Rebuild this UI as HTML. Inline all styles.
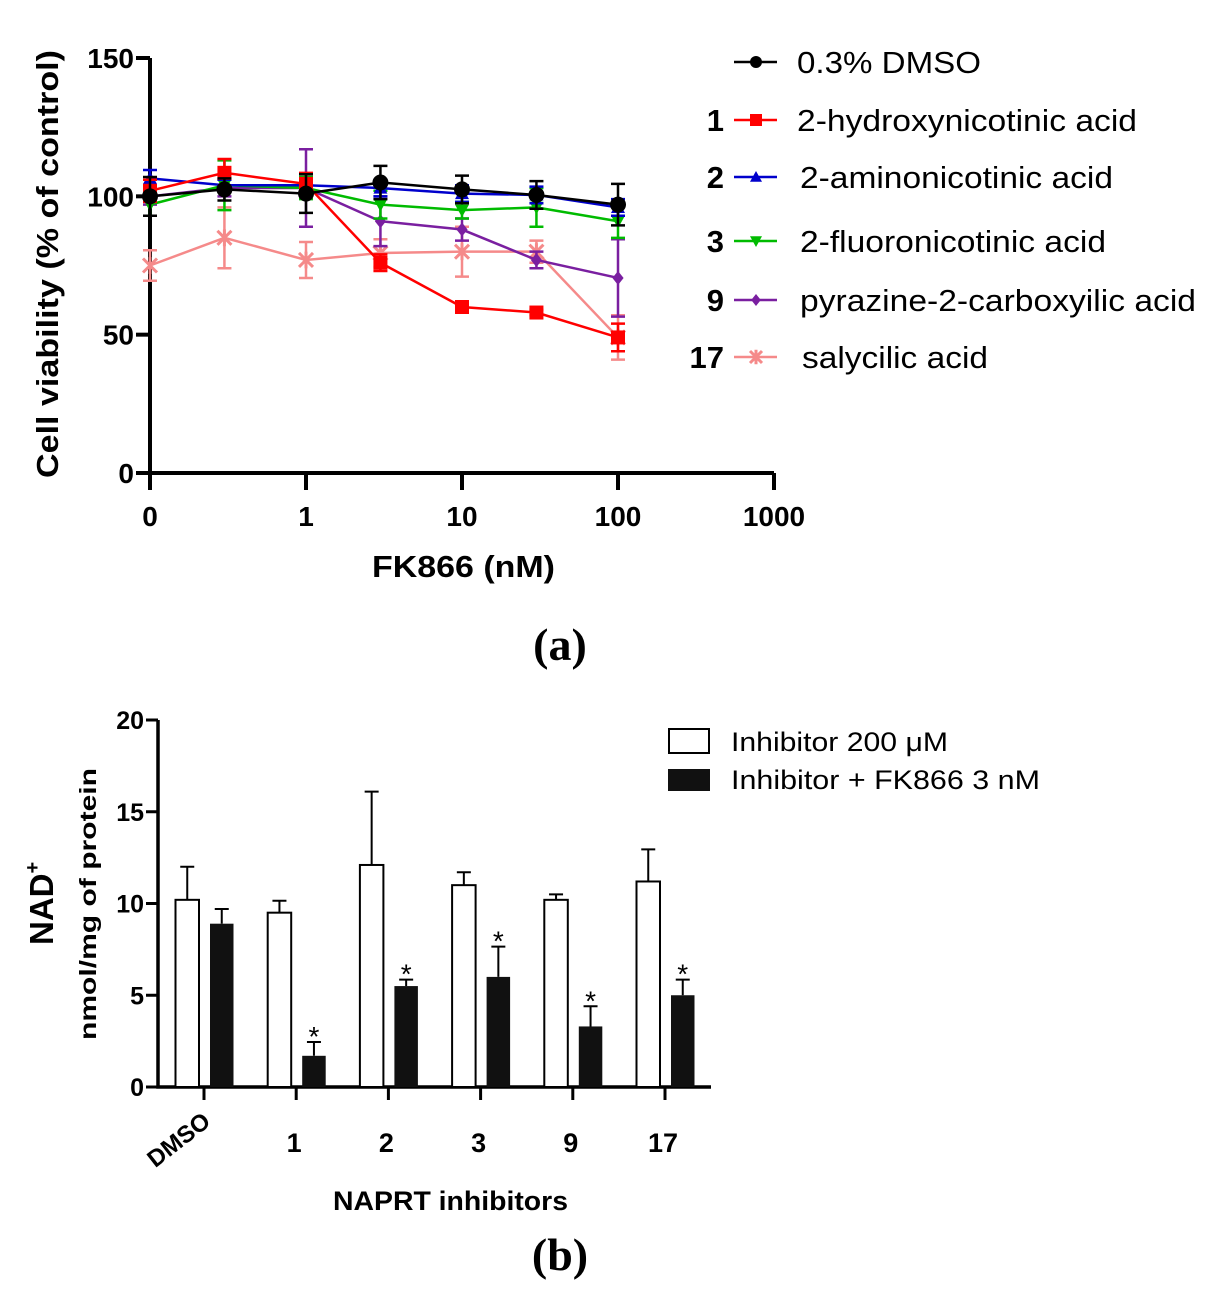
<!DOCTYPE html>
<html><head><meta charset="utf-8"><style>
html,body{margin:0;padding:0;background:#fff;}
svg{display:block;font-family:"Liberation Sans",Arial,sans-serif;}
</style></head><body>
<svg id="fig" width="1228" height="1308" viewBox="0 0 1228 1308" xmlns="http://www.w3.org/2000/svg">
<g id="chartA"></g>
<g id="chartB"></g>
</svg>
<script>
// ---------- Chart A data ----------
const doses = [0.1, 0.3, 1, 3, 10, 30, 100];
const xTickValsA = [0.1, 1, 10, 100, 1000];
const xTickLabelsA = ["0", "1", "10", "100", "1000"];
const yTickValsA = [0, 50, 100, 150];
const seriesNames = ["0.3% DMSO", "2-hydroxynicotinic acid", "2-aminonicotinic acid", "2-fluoronicotinic acid", "pyrazine-2-carboxyilic acid", "salycilic acid"];
const seriesIds = ["", "1", "2", "3", "9", "17"];
const dmsoVals = [100, 102.5, 101, 105, 102.5, 100.5, 97];
const dmsoErr = [7, 4, 7, 6, 5, 5, 7.5];
const hydroxyVals = [102, 108.5, 104.5, 76, 60, 58, 49];
const hydroxyErr = [4, 5, 4, 3, 1, 1, 5];
const aminoVals = [106.5, 104, 104, 103, 101, 100.5, 96];
const aminoErr = [3, 2, 2, 3, 3, 3, 3];
const fluoroVals = [97, 104, 103, 97, 95, 96, 91];
const fluoroErr = [4, 9, 4, 5, 3, 7, 6];
const pyrazineVals = [100, 103, 103, 91, 88, 77, 70.5];
const pyrazineErr = [3, 3, 14, 9, 4, 3, 14];
const salicylVals = [75, 85, 77, 79.5, 80, 80, 49];
const salicylErr = [5.5, 11, 6.5, 5, 9, 4, 8];

// ---------- Chart B data ----------
const groups = ["DMSO", "1", "2", "3", "9", "17"];
const inhibVals = [10.2, 9.5, 12.1, 11, 10.2, 11.2];
const inhibErr = [1.8, 0.65, 4.0, 0.7, 0.3, 1.75];
const fkVals = [8.9, 1.7, 5.5, 6.0, 3.3, 5.0];
const fkErr = [0.8, 0.75, 0.35, 1.65, 1.1, 0.85];
const fkSig = [false, true, true, true, true, true];
const yTickValsB = [0, 5, 10, 15, 20];

const NS = "http://www.w3.org/2000/svg";
function mk(parent, tag, attrs, text) {
  const e = document.createElementNS(NS, tag);
  for (const k in attrs) e.setAttribute(k, attrs[k]);
  if (text !== undefined) e.textContent = text;
  parent.appendChild(e);
  return e;
}

// ===== Chart A =====
const A = document.getElementById('chartA');
const xA = v => 306 + Math.log10(v) * 156;
const yA = v => 473 - v * (415 / 150);

const axA = mk(A, 'path', {d: `M150 ${yA(150)} V473 H774`, stroke: '#000', 'stroke-width': 4, fill: 'none'});


yTickValsA.forEach(v => {
  const t = mk(A, 'line', {x1: 136, x2: 150, y1: yA(v), y2: yA(v), stroke: '#000', 'stroke-width': 4});
  
  
  const l = mk(A, 'text', {x: 134, y: yA(v) + 10, 'text-anchor': 'end', 'font-size': 28, 'font-weight': 'bold'}, String(v));
  
  
});
xTickValsA.forEach((v, i) => {
  const t = mk(A, 'line', {x1: xA(v), x2: xA(v), y1: 473, y2: 490, stroke: '#000', 'stroke-width': 4});
  
  
  const l = mk(A, 'text', {x: xA(v), y: 526, 'text-anchor': 'middle', 'font-size': 28, 'font-weight': 'bold'}, xTickLabelsA[i]);
  
  
});
let t;
t = mk(A, 'text', {x: 372, y: 577, 'font-size': 31, 'font-weight': 'bold', textLength: 183, lengthAdjust: 'spacingAndGlyphs'}, 'FK866 (nM)');
 
t = mk(A, 'text', {x: 0, y: 0, transform: 'translate(58,478) rotate(-90)', 'font-size': 31, 'font-weight': 'bold', textLength: 428, lengthAdjust: 'spacingAndGlyphs'}, 'Cell viability (% of control)');
 
t = mk(A, 'text', {x: 560, y: 660, 'text-anchor': 'middle', 'font-size': 46, 'font-weight': 'bold', 'font-family': '"Liberation Serif",serif'}, '(a)');
 

const colors = ['#000000', '#ff0000', '#0000cc', '#00bb00', '#7a1fa0', '#f58a8a'];
const markers = ['circle', 'square', 'tri', 'itri', 'diamond', 'x'];
const allVals = [dmsoVals, hydroxyVals, aminoVals, fluoroVals, pyrazineVals, salicylVals];
const allErr = [dmsoErr, hydroxyErr, aminoErr, fluoroErr, pyrazineErr, salicylErr];

function marker(g, type, x, y, c, s) {
  let m;
  if (type === 'circle') m = mk(g, 'circle', {cx: x, cy: y, r: s, fill: c});
  else if (type === 'square') m = mk(g, 'rect', {x: x - s, y: y - s, width: 2 * s, height: 2 * s, fill: c});
  else if (type === 'tri') m = mk(g, 'path', {d: `M${x} ${y - s} L${x + s} ${y + s * 0.8} L${x - s} ${y + s * 0.8}Z`, fill: c});
  else if (type === 'itri') m = mk(g, 'path', {d: `M${x} ${y + s} L${x + s} ${y - s * 0.8} L${x - s} ${y - s * 0.8}Z`, fill: c});
  else if (type === 'diamond') m = mk(g, 'path', {d: `M${x} ${y - s} L${x + s * 0.8} ${y} L${x} ${y + s} L${x - s * 0.8} ${y}Z`, fill: c});
  else m = mk(g, 'path', {d: `M${x - s} ${y - s} L${x + s} ${y + s} M${x + s} ${y - s} L${x - s} ${y + s} M${x} ${y - s * 1.2} V${y + s * 1.2}`, stroke: c, 'stroke-width': 3, fill: 'none'});
  return m;
}

[5, 4, 3, 2, 1, 0].forEach(si => {
  const g = mk(A, 'g', {});
  
  
  const vals = allVals[si], err = allErr[si], c = colors[si];
  doses.forEach((d, i) => {
    const x = xA(d);
    const e = mk(g, 'path', {d: `M${x} ${yA(vals[i] + err[i])} V${yA(vals[i] - err[i])} M${x - 7} ${yA(vals[i] + err[i])} h14 M${x - 7} ${yA(vals[i] - err[i])} h14`, stroke: c, 'stroke-width': 2.5, fill: 'none'});
    
    
  });
  const ln = mk(g, 'polyline', {points: doses.map((d, i) => `${xA(d)},${yA(vals[i])}`).join(' '), stroke: c, 'stroke-width': 2.5, fill: 'none'});
  
  
  doses.forEach((d, i) => {
    const m = marker(g, markers[si], xA(d), yA(vals[i]), c, si === 0 ? 8 : 7);
    
    
  });
});

// legend A
const legRows = [62, 120, 177, 241, 300, 357];
const legX = [797, 797, 800, 800, 800, 802];
const legW = [184, 340, 313, 306, 396, 186];
seriesNames.forEach((n, i) => {
  const g = mk(A, 'g', {});
  
  
  const y = legRows[i];
  mk(g, 'line', {x1: 734, x2: 777, y1: y, y2: y, stroke: colors[i], 'stroke-width': 2.5});
  marker(g, markers[i], 756, y, colors[i], 6);
  if (seriesIds[i]) mk(g, 'text', {x: 724, y: y + 11, 'text-anchor': 'end', 'font-size': 31, 'font-weight': 'bold'}, seriesIds[i]);
  mk(g, 'text', {x: legX[i], y: y + 11, 'font-size': 31, textLength: legW[i], lengthAdjust: 'spacingAndGlyphs'}, n);
});

// ===== Chart B =====
const B = document.getElementById('chartB');
const yB = v => 1087 - v * (367 / 20);
const gc = i => 204 + i * 92.2;
const bw = 23.5;
const AX = 158;

t = mk(B, 'path', {d: `M${AX} ${yB(20)} V1087 H711`, stroke: '#000', 'stroke-width': 3.5, fill: 'none'});
 
yTickValsB.forEach(v => {
  const tk = mk(B, 'line', {x1: AX - 12, x2: AX, y1: yB(v), y2: yB(v), stroke: '#000', 'stroke-width': 3});
   
  const l = mk(B, 'text', {x: AX - 14, y: yB(v) + 9, 'text-anchor': 'end', 'font-size': 25, 'font-weight': 'bold'}, String(v));
   
});
groups.forEach((gname, i) => {
  const x = gc(i);
  const tk = mk(B, 'line', {x1: x, x2: x, y1: 1087, y2: 1100, stroke: '#000', 'stroke-width': 3});
   
  let l;
  if (i === 0) l = mk(B, 'text', {x: 0, y: 0, transform: `translate(${x + 8},1124) rotate(-38)`, 'text-anchor': 'end', 'font-size': 24, 'font-weight': 'bold'}, gname);
  else l = mk(B, 'text', {x: x - 2, y: 1152, 'text-anchor': 'middle', 'font-size': 27, 'font-weight': 'bold'}, gname);
   

  const x1 = x - 28.5, x2 = x + 6;
  const eb1 = mk(B, 'path', {d: `M${x1 + bw / 2} ${yB(inhibVals[i])} V${yB(inhibVals[i] + inhibErr[i])} m-7 0 h14`, stroke: '#000', 'stroke-width': 2, fill: 'none'});
   
  const b1 = mk(B, 'rect', {x: x1, y: yB(inhibVals[i]), width: bw, height: 1087 - yB(inhibVals[i]), fill: '#fff', stroke: '#000', 'stroke-width': 2});
   
  const eb2 = mk(B, 'path', {d: `M${x2 + bw / 2} ${yB(fkVals[i])} V${yB(fkVals[i] + fkErr[i])} m-7 0 h14`, stroke: '#000', 'stroke-width': 2, fill: 'none'});
   
  const b2 = mk(B, 'rect', {x: x2, y: yB(fkVals[i]), width: bw, height: 1087 - yB(fkVals[i]), fill: '#111'});
   
  if (fkSig[i]) {
    const s = mk(B, 'text', {x: x2 + bw / 2, y: yB(fkVals[i] + fkErr[i]) + 4, 'text-anchor': 'middle', 'font-size': 28}, '*');
     
  }
});
t = mk(B, 'text', {x: 333, y: 1210, 'font-size': 27, 'font-weight': 'bold', textLength: 235, lengthAdjust: 'spacingAndGlyphs'}, 'NAPRT inhibitors');
 
t = mk(B, 'text', {x: 0, y: 0, transform: 'translate(53,945) rotate(-90)', 'font-size': 33, 'font-weight': 'bold'});
 
mk(t, 'tspan', {}, 'NAD');
mk(t, 'tspan', {'font-size': 20, dy: -14}, '+');
t = mk(B, 'text', {x: 0, y: 0, transform: 'translate(96,1040) rotate(-90)', 'font-size': 23, 'font-weight': 'bold', textLength: 272, lengthAdjust: 'spacingAndGlyphs'}, 'nmol/mg of protein');
 
t = mk(B, 'text', {x: 560, y: 1270, 'text-anchor': 'middle', 'font-size': 46, 'font-weight': 'bold', 'font-family': '"Liberation Serif",serif'}, '(b)');
 

let lg = mk(B, 'g', {});
 
mk(lg, 'rect', {x: 669, y: 729, width: 40, height: 24, fill: '#fff', stroke: '#000', 'stroke-width': 2});
mk(lg, 'text', {x: 731, y: 751, 'font-size': 27, textLength: 217, lengthAdjust: 'spacingAndGlyphs'}, 'Inhibitor 200 \u03BCM');
lg = mk(B, 'g', {});
 
mk(lg, 'rect', {x: 668, y: 769, width: 42, height: 22, fill: '#111'});
mk(lg, 'text', {x: 731, y: 789, 'font-size': 27, textLength: 309, lengthAdjust: 'spacingAndGlyphs'}, 'Inhibitor + FK866 3 nM');
</script>
</body></html>
